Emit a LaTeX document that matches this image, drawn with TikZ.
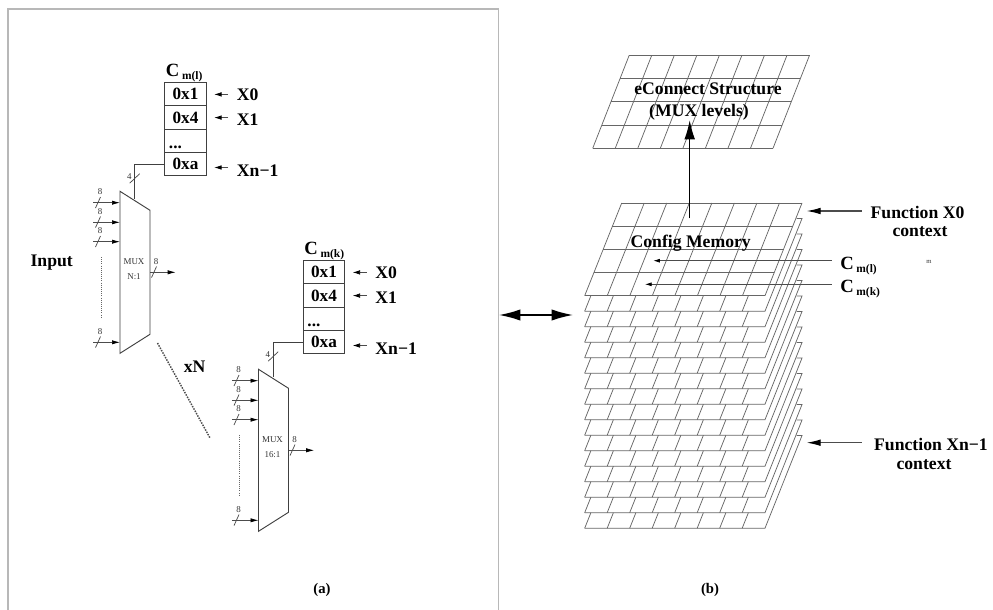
\documentclass[tikz,border=0pt]{standalone}
\usepackage{fontspec}
\setmainfont{Liberation Serif}
\usetikzlibrary{arrows.meta}
\newcommand{\bigfont}{\fontsize{12.9}{15}\selectfont\bfseries}
\newcommand{\largefont}{\fontsize{13.25}{15}\selectfont\bfseries}
\newcommand{\subfont}{\fontsize{8.6}{10}\selectfont\bfseries}
\newcommand{\tinyfont}{\fontsize{6.7}{8}\selectfont}
\newcommand{\cmlabel}[1]{{\fontsize{14}{15}\selectfont\bfseries C}\kern2pt\raisebox{-2.6pt}{\subfont m(#1)}}
\tikzset{
  wire/.style={draw=black!75,line width=0.7pt},
  thin wire/.style={draw=black!70,line width=0.55pt},
  grid line/.style={draw=black!60,line width=0.55pt},
  smalltip/.style={-{Latex[length=5.5pt,width=3.4pt,color=black,fill=black]}},
  feedtip/.style={-{Latex[length=6pt,width=3.2pt,color=black,fill=black]}},
  bold text/.style={inner sep=0pt,font=\bigfont},
  large text/.style={inner sep=0pt,font=\largefont},
  tiny text/.style={inner sep=0pt,font=\tinyfont,text=black!80},
  cell/.style={draw=black!75,line width=0.8pt,minimum width=41.5*0.75pt,minimum height=23.25*0.75pt,inner sep=0pt,font=\bigfont,outer sep=0pt},
}
% one multiplexer together with its memory column; (0,0) is the table's top-left corner
\newcommand{\muxunit}[3]{%
  \begin{scope}[shift={#1},name prefix=#2-]
    \node[cell,anchor=north west] (c0) at (0,0) {0x1};
    \node[cell,anchor=north] (c1) at (c0.south) {0x4};
    \node[cell,anchor=north] (c2) at (c1.south) {};
    \node[cell,anchor=north] (c3) at (c2.south) {0xa};
    \node[inner sep=0pt,anchor=base west,font=\bigfont] at (4,65.5) {...};
    \node[inner sep=0pt,anchor=base west] (title) at (1,-6.5) {\cmlabel{#3}};
    \node[large text,anchor=west] (x0) at (72,12.5) {X0};
    \node[large text,anchor=west] (x1) at (72,36.5) {X1};
    \node[large text,anchor=west] (xn) at (72,87.5) {Xn\textminus 1};
    \draw[thin wire,smalltip] (x0.west) ++(-8.5,-0.8) -- ++(-14,0);
    \draw[thin wire,smalltip] (x1.west) ++(-8.5,-1.6) -- ++(-14,0);
    \draw[thin wire,smalltip] (xn.west) ++(-8.5,-2.7) -- ++(-14,0);
    % mux body
    \coordinate (m1) at (-44.7,108.6);
    \coordinate (m2) at (-14.7,127.6);
    \coordinate (m3) at (-14.7,251.6);
    \coordinate (m4) at (-44.7,270.6);
    \draw[wire] (m1) -- (m2) -- (m3) -- (m4) -- cycle;
    \coordinate (sel) at (-30,116.3);
    \draw[wire] (c3.west) -| (sel);
    \draw[thin wire] (-35,100.5) -- (-25,91);
    \node[tiny text] at (-35.4,94) {4};
    % inputs
    \foreach \y/\n in {120/a,139.6/b,159/c,259.6/d}{
      \coordinate (in\n) at (-44.7,\y);
      \draw[thin wire,feedtip] (-71.4,\y) -- (in\n);
      \draw[thin wire] (-69.2,\y+5.3) -- (-64.2,\y-5.7);
      \node[tiny text] at (-64.7,\y-10.7) {8};
    }
    \draw[black!60,line width=0.7pt,dash pattern=on 0.7pt off 0.9pt] (-63.7,174.3) -- (-63.7,235.5);
    % output
    \coordinate (out) at (11,189.6);
    \draw[thin wire,feedtip] (m2|-out) -- (out);
    \draw[thin wire] (-13.2,194.9) -- (-8.2,183.9);
    \node[tiny text] at (-8.7,179) {8};
  \end{scope}%
}
\begin{document}
\begin{tikzpicture}[x=0.75pt,y=-0.75pt]
\useasboundingbox (0,0) rectangle (993,610);
\fill[white] (0,0) rectangle (993,610);
% frame
\draw[draw=black!28,line width=1.05pt] (8,610) -- (8,9) -- (498.5,9) -- (498.5,610);
% panel (a)
\muxunit{(164.7,82.7)}{ua}{l}
\muxunit{(303.2,260.7)}{ub}{k}
\node[tiny text] at (134,261.7) {MUX};
\node[tiny text] at (134,277) {N:1};
\node[tiny text] at (272.5,439.7) {MUX};
\node[tiny text] at (272.5,455) {16:1};
\node[large text] (input) at (51.7,263) {Input};
\node[large text] (xN) at (194.7,367) {xN};
\draw[black!70,line width=1.1pt,dash pattern=on 1.1pt off 0.9pt] (157.5,343) -- (210,438);
\node[inner sep=0pt,font=\fontsize{11}{13}\selectfont\bfseries] (capa) at (322,590) {(a)};
\node[inner sep=0pt,font=\fontsize{11}{13}\selectfont\bfseries] (capb) at (710,590) {(b)};
% double arrow
\coordinate (dl) at (499,315);
\coordinate (dr) at (573,315);
\draw[black,line width=1.2pt,{Latex[length=16pt,width=8.5pt]}-{Latex[length=16pt,width=8.5pt]}] (dl) -- (dr);
% stacked layers (only the strips that stay visible)
\foreach \k in {1,...,15}{
  \pgfmathsetmacro{\b}{295.7+15.5*\k}
  \pgfmathsetmacro{\t}{\b-92.7}
  \pgfmathsetmacro{\u}{\b-15.5}
  \draw[grid line] (584.7,\b) -- (765,\b) -- (802,\t) -- (796.5,\t);
  \foreach \i in {0,...,7}{
    \pgfmathsetmacro{\xa}{584.7+22.5*\i}
    \pgfmathsetmacro{\xb}{\xa+6.2}
    \draw[grid line] (\xa,\b) -- (\xb,\u);
  }
}
% front layer
\newcommand{\gridplane}[5]{% x-left-bottom, x-right-bottom, y-bottom, shift x top, y-top
  \pgfmathsetmacro{\w}{(#2-#1)/8}
  \pgfmathsetmacro{\h}{(#3-#5)/4}
  \pgfmathsetmacro{\s}{#4/4}
  \fill[white] (#1,#3) -- (#2,#3) -- (#2+#4,#5) -- (#1+#4,#5) -- cycle;
  \foreach \i in {0,...,8}{
    \draw[grid line] (#1+\w*\i,#3) -- (#1+#4+\w*\i,#5);
  }
  \foreach \j in {0,...,4}{
    \draw[grid line] (#1+\s*\j,#3-\h*\j) -- (#2+\s*\j,#3-\h*\j);
  }
}
\gridplane{584.7}{765}{295.7}{37}{203}
\gridplane{592.7}{773}{148.3}{36.5}{55.3}
% labels on grids
\node[large text] (econn) at (708,89) {eConnect Structure};
\node[large text] (muxl) at (699,112) {(MUX levels)};
\node[large text] (cfg) at (690.7,243) {Config Memory};
\coordinate (arrowfoot) at (689.7,218.3);
\coordinate (arrowtip) at (689.7,120);
\draw[black,line width=1.1pt,-{Latex[length=14.5pt,width=8pt]}] (arrowfoot) -- (arrowtip);
% right labels
\node[large text] (f0) at (917.5,212) {Function X0};
\node[large text] (f0b) at (920,232) {context};
\node[large text] (fn) at (931,444) {Function Xn\textminus 1};
\node[large text] (fnb) at (924,464.5) {context};
\draw[black!70,line width=0.85pt,-{Latex[length=10.5pt,width=5pt,color=black,fill=black]}] (861.7,211) -- (806.7,211);
\draw[black!70,line width=0.85pt,-{Latex[length=10.5pt,width=5pt,color=black,fill=black]}] (861.7,442.7) -- (806.7,442.7);
\node[inner sep=0pt,anchor=base west] (cl) at (840,269) {\cmlabel{l}};
\node[inner sep=0pt,anchor=base west] (ck) at (840,292) {\cmlabel{k}};
\draw[thin wire,-{Latex[length=5pt,width=3pt,color=black,fill=black]}] (831.7,260.7) -- (653.3,260.7);
\draw[thin wire,-{Latex[length=5pt,width=3pt,color=black,fill=black]}] (831.7,284.3) -- (645,284.3);
\node[tiny text,font=\fontsize{5}{6}\selectfont] (m) at (929,262) {m};
\end{tikzpicture}
\end{document}
